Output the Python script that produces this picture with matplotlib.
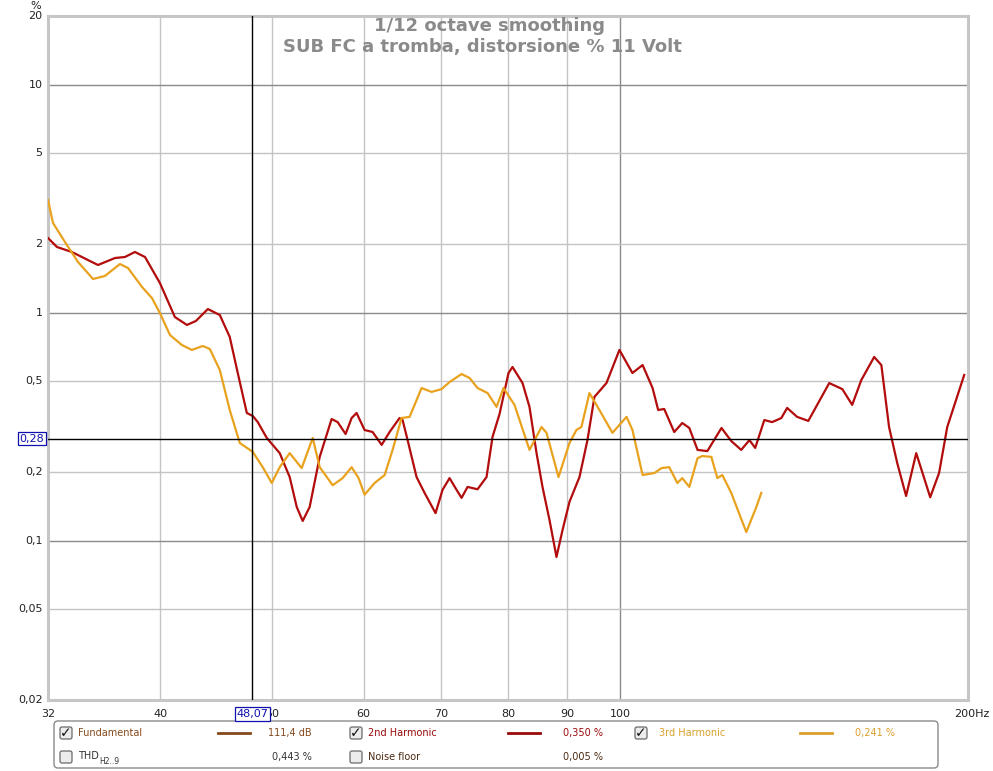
import numpy as np
import matplotlib.pyplot as plt
from matplotlib.patches import FancyBboxPatch
from matplotlib.transforms import blended_transform_factory

# 2nd harmonic distortion, % (1/12 octave smoothing)
h2_freq = [32.0, 32.58, 33.56, 34.65, 35.35, 36.57, 37.30, 38.05, 38.82, 39.99,
           41.20, 42.20, 42.96, 44.00, 45.06, 45.96, 46.70, 47.55, 48.12, 48.60,
           49.48, 50.77, 51.79, 52.52, 53.15, 53.89, 54.98, 56.30, 56.98, 57.89,
           58.59, 59.17, 60.12, 61.09, 62.20, 63.19, 64.46, 64.85, 65.50, 66.68,
           67.75, 69.25, 70.22, 71.21, 72.21, 72.93, 73.81, 75.29, 76.65, 77.57,
           78.66, 80.08, 80.72, 82.35, 83.50, 84.68, 85.69, 86.90, 88.11, 89.17,
           90.42, 92.24, 93.72, 95.03, 97.33, 99.88, 102.5, 104.6, 106.7, 107.9,
           109.2, 111.4, 113.2, 114.8, 116.7, 119.0, 122.4, 124.8, 127.3, 129.4,
           130.9, 133.3, 135.4, 137.9, 139.5, 142.3, 145.5, 151.7, 155.7, 158.8,
           161.7, 165.9, 168.3, 170.9, 173.7, 176.8, 180.4, 185.5, 188.8, 191.9,
           195.3, 198.5]
h2_pct = [2.125, 1.940, 1.845, 1.701, 1.618, 1.736, 1.754, 1.845, 1.754, 1.349,
          0.957, 0.883, 0.919, 1.037, 0.976, 0.782, 0.5435, 0.363, 0.352, 0.331,
          0.282, 0.242, 0.190, 0.1405, 0.122, 0.1405, 0.233, 0.3415, 0.331, 0.2935,
          0.345, 0.363, 0.3056, 0.2995, 0.263, 0.2995, 0.345, 0.338, 0.276, 0.190,
          0.162, 0.132, 0.167, 0.188, 0.167, 0.154, 0.172, 0.168, 0.190, 0.285,
          0.359, 0.5435, 0.5775, 0.491, 0.386, 0.242, 0.172, 0.123, 0.0848, 0.111,
          0.148, 0.190, 0.276, 0.427, 0.491, 0.686, 0.5435, 0.589, 0.467, 0.374,
          0.378, 0.2995, 0.328, 0.312, 0.250, 0.247, 0.312, 0.2735, 0.250, 0.276,
          0.255, 0.338, 0.331, 0.345, 0.382, 0.349, 0.335, 0.491, 0.462, 0.394,
          0.506, 0.639, 0.589, 0.315, 0.219, 0.157, 0.242, 0.155, 0.198, 0.315,
          0.414, 0.533]

# 3rd harmonic distortion, %
h3_freq = [32.0, 32.32, 33.10, 33.97, 35.00, 35.84, 36.93, 37.53, 38.59, 39.36,
           39.99, 40.80, 41.78, 42.62, 43.56, 44.17, 45.06, 45.96, 46.89, 48.12,
           49.08, 49.97, 50.77, 51.79, 53.04, 54.22, 54.98, 56.42, 57.55, 58.59,
           59.41, 60.12, 61.33, 62.57, 63.57, 64.72, 65.76, 67.35, 68.70, 70.09,
           71.21, 72.93, 74.10, 75.29, 76.81, 78.20, 79.29, 81.04, 83.50, 85.52,
           86.38, 88.47, 90.42, 91.69, 92.60, 94.09, 95.98, 98.50, 101.3, 102.5,
           104.6, 107.1, 108.6, 110.3, 112.1, 113.2, 114.8, 116.7, 117.8, 119.95,
           121.4, 122.6, 124.8, 128.6, 131.2, 132.5]
h3_pct = [3.119, 2.473, 2.041, 1.668, 1.405, 1.448, 1.634, 1.569, 1.296, 1.159,
          0.996, 0.798, 0.721, 0.686, 0.714, 0.693, 0.560, 0.374, 0.268, 0.245,
          0.210, 0.179, 0.210, 0.242, 0.208, 0.282, 0.210, 0.175, 0.188, 0.210,
          0.188, 0.159, 0.179, 0.194, 0.250, 0.345, 0.349, 0.467, 0.449, 0.462,
          0.496, 0.538, 0.517, 0.467, 0.444, 0.386, 0.467, 0.394, 0.250, 0.315,
          0.297, 0.190, 0.268, 0.306, 0.315, 0.444, 0.374, 0.297, 0.349, 0.306,
          0.194, 0.198, 0.208, 0.210, 0.179, 0.188, 0.172, 0.230, 0.235, 0.233,
          0.188, 0.194, 0.162, 0.109, 0.1405, 0.162]

cursor_freq = 48.07
cursor_pct = 0.28

x_ticks = [32, 40, 50, 60, 70, 80, 90, 100, 200]
x_labels = ['32', '40', '50', '60', '70', '80', '90', '100', '200Hz']
y_ticks = [20, 10, 5, 2, 1, 0.5, 0.2, 0.1, 0.05, 0.02]
y_labels = ['20', '10', '5', '2', '1', '0,5', '0,2', '0,1', '0,05', '0,02']

title_lines = ['1/12 octave smoothing', 'SUB FC a tromba, distorsione % 11 Volt']

legend_names = ['Fundamental', '2nd Harmonic', '3rd Harmonic']
legend_values = ['111,4 dB', '0,350 %', '0,241 %']
legend_colors = ['#85491c', '#9a0a0a', '#d9a02a']
thd_value = '0,443 %'
noise_value = '0,005 %'

RED = '#b30c0c'
ORANGE = '#e8a21e'
W, H = 993, 771

fig = plt.figure(figsize=(W / 100, H / 100), dpi=100)
ax = fig.add_axes([48 / W, 1 - 700 / H, 920 / W, 684 / H])
ax.set_xscale('log')
ax.set_yscale('log')
ax.set_xlim(32, 200)
ax.set_ylim(0.02, 20)

# grid: decades darker
for v in [40, 50, 60, 70, 80, 90]:
    ax.axvline(v, color='#c4c4c4', lw=1, zorder=1)
ax.axvline(100, color='#8a8a8a', lw=1, zorder=1)
for v in [20, 5, 2, 0.5, 0.2, 0.05]:
    ax.axhline(v, color='#c4c4c4', lw=1, zorder=1)
for v in [10, 1, 0.1]:
    ax.axhline(v, color='#8a8a8a', lw=1, zorder=1)

ax.plot(h2_freq, h2_pct, color=RED, lw=1.6, solid_joinstyle='round', zorder=3)
ax.plot(h3_freq, h3_pct, color=ORANGE, lw=1.6, solid_joinstyle='round', zorder=3)

ax.axvline(cursor_freq, color='black', lw=1, zorder=4)
ax.axhline(cursor_pct, color='black', lw=1, zorder=4)

ax.set_xticks([])
ax.set_yticks([])
ax.minorticks_off()
for s in ax.spines.values():
    s.set_color('#c6c6c6')
    s.set_linewidth(2.2)

tx = blended_transform_factory(ax.transData, ax.transAxes)
ty = blended_transform_factory(ax.transAxes, ax.transData)
for v, lab in zip(x_ticks, x_labels):
    if lab.endswith('Hz'):
        ax.text(v * 0.973, -0.013, lab, transform=tx, ha='left', va='top', fontsize=8,
                color='#222222', clip_on=False)
    else:
        ax.text(v, -0.013, lab, transform=tx, ha='center', va='top', fontsize=8,
                color='#222222', clip_on=False)
for v, lab in zip(y_ticks, y_labels):
    ax.text(-0.006, v, lab, transform=ty, ha='right', va='center', fontsize=8,
            color='#222222', clip_on=False)
fig.text(36 / W, 1 - 6 / H, '%', ha='center', va='center', fontsize=8, color='#222222')

# cursor value boxes
ax.text(cursor_freq, -0.013, '48,07', transform=tx, ha='center', va='top', fontsize=8,
        color='#1010b0', zorder=6, clip_on=False,
        bbox=dict(boxstyle='square,pad=0.15', fc='white', ec='#1010b0', lw=0.9))
ax.text(-0.004, cursor_pct, '0,28', transform=ty, ha='right', va='center', fontsize=8,
        color='#1010b0', zorder=6, clip_on=False,
        bbox=dict(boxstyle='square,pad=0.15', fc='white', ec='#1010b0', lw=0.9))

fig.text(490 / W, 1 - 26 / H, title_lines[0], ha='center', va='center',
         fontsize=13, fontweight='bold', color='#8a8a8a')
fig.text(482 / W, 1 - 47 / H, title_lines[1], ha='center', va='center',
         fontsize=13, fontweight='bold', color='#8a8a8a')

# legend panel drawn in pixel coordinates
lg = fig.add_axes([0, 0, 1, 1], zorder=-1)
lg.set_xlim(0, W)
lg.set_ylim(H, 0)
lg.axis('off')
lg.add_patch(FancyBboxPatch((54, 721), 884, 47, boxstyle='round,pad=0,rounding_size=4',
                            fc='white', ec='#8a8a8a', lw=1))


def checkbox(x, y, checked):
    lg.add_patch(FancyBboxPatch((x - 6, y - 6), 12, 12, boxstyle='round,pad=0,rounding_size=2',
                                fc='#ececec', ec='#6a6a6a', lw=0.9))
    if checked:
        lg.text(x, y, '\u2713', ha='center', va='center', fontsize=10,
                fontweight='bold', color='#111111')


row1, row2 = 733, 757
cols = [(66, 78, 218, 268), (356, 368, 508, 563), (641, 659, 800, 855)]
for (cb, tx0, lx, vx), name, val, col in zip(cols, legend_names, legend_values, legend_colors):
    checkbox(cb, row1, True)
    lg.text(tx0, row1, name, ha='left', va='center', fontsize=7, color=col)
    lg.plot([lx, lx + 32], [row1, row1], color=col, lw=2)
    lg.text(vx, row1, val, ha='left', va='center', fontsize=7, color=col)

checkbox(66, row2, False)
lg.text(78, row2 - 1, 'THD', ha='left', va='center', fontsize=7, color='#333333')
lg.text(99, row2 + 4, 'H2..9', ha='left', va='center', fontsize=5.5, color='#333333')
lg.text(272, row2, thd_value, ha='left', va='center', fontsize=7, color='#333333')
checkbox(356, row2, False)
lg.text(368, row2, 'Noise floor', ha='left', va='center', fontsize=7, color='#4a2a12')
lg.text(563, row2, noise_value, ha='left', va='center', fontsize=7, color='#4a2a12')

fig.savefig('out.png', dpi=100, facecolor='white')
